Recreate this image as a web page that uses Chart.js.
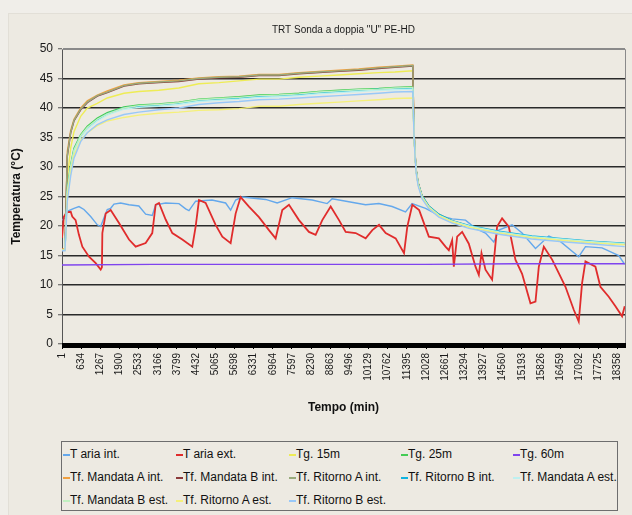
<!DOCTYPE html>
<html>
<head>
<meta charset="utf-8">
<script src="https://cdn.jsdelivr.net/npm/chart.js@4.4.1/dist/chart.umd.min.js"></script>
<style>
  html, body { margin: 0; padding: 0; background: #F0EEE9; width: 632px; height: 515px; overflow: hidden; }
  #frame { position: absolute; left: 8px; top: 13px; width: 640px; height: 520px; background: #EDEAE2; border-left: 1px solid #E2DFD7; border-top: 1px solid #E2DFD7; }
  #c { position: absolute; left: 0; top: 0; }
  #legend { position: absolute; left: 61px; top: 441px; width: 557px; height: 70px; border: 1px solid #6e6e6e; box-sizing: border-box;
            font-family: "Liberation Sans", Arial, sans-serif; font-size: 12px; color: #111;
            display: grid; grid-template-columns: 113px 113px 112px 112px auto; grid-auto-rows: 23px; padding: 1px 0 0 1px; }
  .it { display: flex; align-items: center; white-space: nowrap; line-height: 23px; }
  .mk { display: inline-block; width: 7px; height: 2px; margin-right: 0px; }
</style>
</head>
<body>
<div id="frame"></div>
<canvas id="c" width="632" height="425"></canvas>
<div id="legend"></div>
<script>
// ---- Data ----
const xTickLabels = ['1','634','1267','1900','2533','3166','3799','4432','5065','5698','6331','6964','7597','8230','8863','9496','10129','10762','11395','12028','12661','13294','13927','14560','15193','15826','16459','17092','17725','18358'];

const seriesNames = ['T aria int.','T aria ext.','Tg. 15m','Tg. 25m','Tg. 60m','Tf. Mandata A int.','Tf. Mandata B int.','Tf. Ritorno A int.','Tf. Ritorno B int.','Tf. Mandata A est.','Tf. Mandata B est.','Tf. Ritorno A est.','Tf. Ritorno B est.'];
const seriesColors = ['#64a8ec','#e02c2c','#eeec55','#44cc55','#7f44ee','#f0a040','#8b3a3a','#98ab7c','#10b4e0','#bdf0f0','#c0f0c0','#f5f07a','#99c8f8'];

// time (min) for the air temperature series
const tAriaInt = [1,100,176,397,562,727,948,1167,1279,1388,1497,1609,1718,1939,2213,2540,2765,2983,3095,3425,3864,4085,4195,4416,4955,5406,5572,5737,5955,6727,7110,7606,8266,8761,8926,9478,10029,10468,10908,11350,11568,12010,12450,12890,13331,13661,13991,14265,14430,14870,15200,15643,16082,16412,17072,17294,17842,18393,18590];
const vAriaInt = [21.0,21.4,22.5,23.0,23.3,22.8,21.6,20.2,19.9,21.4,22.8,23.0,23.7,23.9,23.6,23.4,22.0,21.8,23.6,23.9,23.8,22.9,22.6,24.2,24.4,23.9,22.7,24.4,24.9,24.5,23.9,24.8,24.4,23.8,24.6,24.1,23.6,23.8,23.3,22.4,23.8,23.0,21.8,21.2,21.0,19.6,18.8,17.3,19.3,20.2,18.8,16.2,18.3,17.6,14.8,16.5,16.3,15.0,13.5];

const tAriaExt = [1,60,150,290,340,450,560,673,893,1114,1279,1320,1334,1444,1609,1884,2214,2435,2765,2983,3095,3205,3425,3645,3975,4305,4416,4526,4746,5076,5297,5572,5737,5902,6177,6507,6837,7058,7278,7499,7829,8159,8380,8600,8877,9152,9373,9703,10033,10253,10474,10694,11024,11300,11409,11574,11800,12120,12450,12670,12780,12890,12945,13055,13220,13440,13661,13771,13859,13991,14210,14375,14540,14760,14980,15200,15477,15643,15753,15918,16193,16412,16633,16907,17072,17182,17294,17623,17788,18063,18284,18504,18590];
const vAriaExt = [18.0,21.5,22.3,22.4,21.6,21.0,18.5,16.5,14.8,13.7,12.6,13.0,18.8,22.1,22.7,20.5,17.7,16.5,17.1,18.8,23.6,23.9,21.1,18.8,17.7,16.5,19.9,24.4,23.9,20.2,18.2,17.1,22.1,24.9,23.3,21.5,19.3,17.9,22.7,23.6,21.0,19.0,18.5,21.0,23.3,21.0,19.0,18.8,17.9,19.3,20.2,18.8,17.9,15.4,19.9,23.6,22.7,18.2,17.9,16.5,15.9,17.6,13.1,18.2,19.0,17.0,13.1,11.7,15.4,12.6,10.9,19.9,21.3,19.9,14.3,11.9,6.9,7.2,13.1,16.5,14.3,12.0,9.7,5.8,3.8,10.3,14.0,13.1,9.7,8.0,6.4,4.7,6.4];

const tG60 = [1,3000,6000,9000,12000,15000,18590];
const vTg60 = [13.4,13.5,13.5,13.5,13.5,13.6,13.6];

// time (min) shared by the ground / fluid temperature series
const tFluid = [1,100,176,288,397,618,836,1167,1497,2048,2540,3200,3860,4520,5190,5850,6510,7170,7830,8490,9150,9800,10460,11000,11590,11624,11657,11700,11766,11898,12120,12450,12890,13440,14430,15520,16640,17600,18590];
const vTg15      = [16.0,16.0,28.1,33.2,36.0,38.6,40.0,40.8,41.7,42.5,42.8,43.0,43.4,44.1,44.3,44.6,44.9,44.9,45.2,45.4,45.6,45.8,46.0,46.1,46.3,36.4,32.6,29.3,27.1,24.9,23.2,21.8,20.8,19.9,18.9,18.1,17.6,17.2,16.9];
const vTg25      = [16.0,16.0,26.4,30.4,33.2,35.5,36.9,38.3,39.2,40.2,40.5,40.7,41.0,41.5,41.7,41.9,42.2,42.3,42.5,42.8,43.0,43.2,43.3,43.5,43.6,36.6,32.7,29.4,27.2,25.0,23.3,21.9,20.8,20.0,19.0,18.2,17.7,17.3,17.0];
const vMandAint  = [16.1,16.1,32.6,36.2,38.1,40.0,41.2,42.2,42.9,43.9,44.3,44.5,44.7,45.1,45.3,45.4,45.7,45.7,46.0,46.2,46.4,46.6,46.9,47.1,47.3,37.2,33.1,29.7,27.4,25.1,23.4,22.0,20.9,20.0,19.0,18.2,17.7,17.3,17.0];
const vMandBint  = [16.0,16.0,31.8,35.8,37.8,39.7,40.9,42.0,42.6,43.7,44.1,44.3,44.5,44.9,45.1,45.2,45.5,45.5,45.8,46.0,46.2,46.4,46.7,46.9,47.1,36.8,32.8,29.4,27.2,24.9,23.2,21.8,20.8,19.9,18.9,18.1,17.6,17.2,16.9];
const vRitAint   = [16.0,16.0,32.0,35.9,37.9,39.8,41.0,42.1,42.7,43.8,44.2,44.4,44.6,45.0,45.2,45.3,45.6,45.6,45.9,46.1,46.3,46.5,46.8,47.0,47.2,36.9,32.9,29.5,27.3,25.0,23.3,21.9,20.8,19.9,18.9,18.1,17.6,17.2,16.9];
const vRitBint   = [16.0,16.0,25.8,30.0,32.9,35.2,36.6,38.0,39.0,40.0,40.3,40.5,40.8,41.3,41.5,41.7,42.0,42.1,42.3,42.6,42.8,43.0,43.2,43.3,43.4,36.7,32.8,29.5,27.3,25.1,23.4,22.0,20.9,20.1,19.1,18.3,17.8,17.4,17.1];
const vMandAest  = [15.9,15.9,25.5,29.7,32.6,35.0,36.4,37.8,38.8,39.8,40.1,40.3,40.6,41.1,41.3,41.5,41.8,41.9,42.1,42.4,42.6,42.8,43.0,43.1,43.2,36.5,32.6,29.3,27.1,24.9,23.2,21.8,20.8,20.0,19.0,18.2,17.7,17.3,17.0];
const vMandBest  = [15.9,15.9,25.9,30.1,32.9,35.3,36.7,38.1,39.0,40.0,40.4,40.6,40.9,41.4,41.6,41.8,42.1,42.2,42.4,42.7,42.9,43.1,43.2,43.4,43.5,36.5,32.6,29.3,27.1,24.9,23.2,21.8,20.8,19.9,18.9,18.1,17.6,17.2,16.9];
const vRitAest   = [15.9,15.9,25.0,29.0,32.0,34.5,35.8,37.0,37.8,38.4,38.8,39.1,39.3,39.6,39.7,39.9,40.3,40.3,40.6,40.8,41.0,41.2,41.4,41.6,41.7,36.3,32.5,29.2,27.0,24.8,23.1,21.7,20.7,19.8,18.8,18.0,17.5,17.1,16.8];
const vRitBest   = [15.8,15.8,24.2,28.5,31.5,34.3,35.8,37.2,38.0,38.9,39.3,39.7,40.0,40.6,40.9,41.1,41.4,41.5,41.7,41.9,42.1,42.3,42.5,42.7,42.8,36.2,32.4,29.0,26.8,24.6,22.9,21.5,20.5,19.6,18.6,17.8,17.3,16.9,16.5];

// ---- Build the chart ----
const pairs = (ts, vs) => ts.map((t, i) => ({ x: t, y: vs[i] }));
const seriesData = [
  pairs(tAriaInt, vAriaInt), pairs(tAriaExt, vAriaExt),
  pairs(tFluid, vTg15), pairs(tFluid, vTg25), pairs(tG60, vTg60),
  pairs(tFluid, vMandAint), pairs(tFluid, vMandBint), pairs(tFluid, vRitAint), pairs(tFluid, vRitBint),
  pairs(tFluid, vMandAest), pairs(tFluid, vMandBest), pairs(tFluid, vRitAest), pairs(tFluid, vRitBest)
];
const datasets = seriesNames.map((name, i) => ({
  label: name,
  data: seriesData[i],
  borderColor: seriesColors[i],
  backgroundColor: seriesColors[i],
  borderWidth: i === 1 ? 1.8 : 1.4,
  pointRadius: 0,
  tension: 0,
  fill: false,
  order: seriesNames.length - i
}));

const frame = {
  id: 'frame',
  afterDraw(c) {
    const { ctx, chartArea: a } = c;
    ctx.save();
    ctx.strokeStyle = '#8a8a8a';
    ctx.lineWidth = 1;
    ctx.beginPath();
    ctx.moveTo(a.left, a.top + 0.5);
    ctx.lineTo(a.right + 0.5, a.top + 0.5);
    ctx.lineTo(a.right + 0.5, a.bottom);
    ctx.stroke();
    ctx.fillStyle = '#000';
    ctx.fillRect(a.left, a.bottom - 1, a.right - a.left + 1, 5);
    ctx.restore();
  }
};

const FONT = '"Liberation Sans", Arial, sans-serif';
const chart = new Chart(document.getElementById('c'), {
  type: 'line',
  data: { datasets },
  plugins: [frame],
  options: {
    responsive: false,
    animation: false,
    events: [],
    layout: { padding: { left: 0, right: 7, top: 0, bottom: 0 } },
    plugins: {
      legend: { display: false },
      tooltip: { enabled: false },
      title: {
        display: true, text: 'TRT Sonda a doppia "U" PE-HD', fullSize: false,
        color: '#1a1a1a', font: { family: FONT, size: 10, weight: 'normal' },
        padding: { top: 24, bottom: 13 }
      }
    },
    scales: {
      x: {
        type: 'linear', min: 1, max: 18600,
        afterBuildTicks: (s) => { s.ticks = xTickLabels.map(l => ({ value: Number(l) })); },
        afterFit: (s) => { s.height = 81; s.paddingLeft = 0; s.paddingRight = 0; },
        ticks: {
          autoSkip: false, minRotation: 90, maxRotation: 90, padding: 4,
          color: '#1a1a1a', font: { family: FONT, size: 10 },
          callback: (v, i) => xTickLabels[i]
        },
        grid: { drawOnChartArea: false, drawTicks: true, tickLength: 5, color: '#000' },
        border: { display: false },
        title: { display: true, text: 'Tempo (min)', color: '#111', font: { family: FONT, size: 12, weight: 'bold' }, padding: { top: 0, bottom: 10 } }
      },
      y: {
        min: 0, max: 50,
        afterFit: (s) => { s.width = 62; s.paddingTop = 0; s.paddingBottom = 0; },
        ticks: { stepSize: 5, padding: 5, color: '#1a1a1a', font: { family: FONT, size: 12 } },
        grid: {
          color: (ctx) => (ctx.tick && ctx.tick.value === 50) ? '#8a8a8a' : '#2a2a2a',
          lineWidth: 1.5, tickLength: 4, tickColor: '#555', tickWidth: 1
        },
        border: { display: true, color: '#555', width: 1 },
        title: { display: true, text: 'Temperatura (°C)', color: '#111', font: { family: FONT, size: 12, weight: 'bold' }, padding: { top: 9, bottom: 0 } }
      }
    }
  }
});

// ---- HTML legend built from the same series lists ----
const lg = document.getElementById('legend');
seriesNames.forEach((name, i) => {
  const it = document.createElement('div');
  it.className = 'it';
  const mk = document.createElement('span');
  mk.className = 'mk';
  mk.style.background = seriesColors[i];
  it.appendChild(mk);
  it.appendChild(document.createTextNode(name));
  lg.appendChild(it);
});
</script>
</body>
</html>
